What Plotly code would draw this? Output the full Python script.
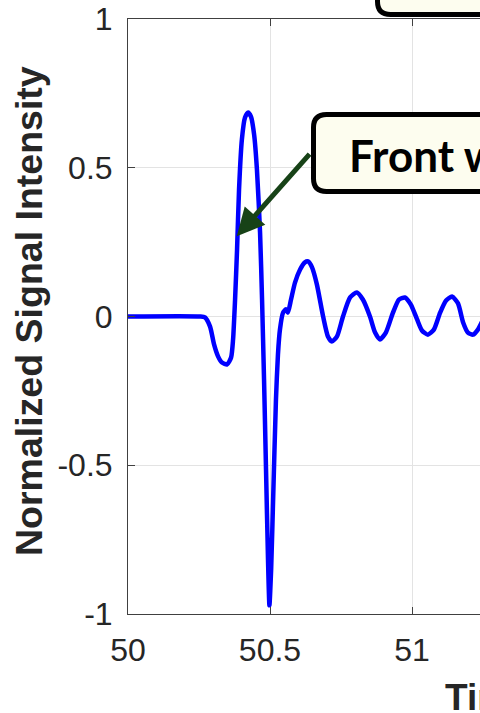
import plotly.graph_objects as go

# ---- data ----
time_s = [50.000, 50.2535, 50.271, 50.289, 50.303, 50.317, 50.331, 50.349, 50.363, 50.370,
          50.377, 50.384, 50.391, 50.401, 50.412, 50.423, 50.433, 50.444, 50.454, 50.465,
          50.472, 50.479, 50.486, 50.493, 50.498, 50.504, 50.511, 50.521, 50.528, 50.535,
          50.546, 50.556, 50.563, 50.574, 50.588, 50.606, 50.623, 50.634, 50.648, 50.665,
          50.687, 50.704, 50.718, 50.736, 50.757, 50.782, 50.806, 50.827, 50.852, 50.870,
          50.887, 50.908, 50.933, 50.954, 50.975, 50.996, 51.018, 51.035, 51.056, 51.077,
          51.099, 51.120, 51.141, 51.162, 51.180, 51.197, 51.215, 51.232, 51.254, 51.275]
intensity = [0.0, 0.0, -0.003, -0.034, -0.094, -0.134, -0.155, -0.161, -0.138, -0.077,
             0.057, 0.225, 0.427, 0.595, 0.669, 0.686, 0.672, 0.612, 0.494, 0.282,
             0.057, -0.212, -0.514, -0.817, -0.971, -0.850, -0.615, -0.279, -0.128, -0.044,
             0.013, 0.024, 0.013, 0.057, 0.114, 0.158, 0.182, 0.185, 0.165, 0.108,
             0.0, -0.067, -0.084, -0.067, 0.0, 0.064, 0.081, 0.057, 0.0, -0.054,
             -0.077, -0.054, 0.013, 0.057, 0.064, 0.040, -0.010, -0.047, -0.061, -0.044,
             0.013, 0.054, 0.067, 0.044, -0.020, -0.054, -0.061, -0.044, -0.003, 0.03]

x_ticks = [50, 50.5, 51, 51.5, 52]
x_tick_labels = ["50", "50.5", "51", "51.5", "52"]
y_ticks = [-1, -0.5, 0, 0.5, 1]
y_tick_labels = ["-1", "-0.5", "0", "0.5", "1"]

annotation_text = "Front wave"
arrow_tip = (50.383, 0.27)
arrow_tail = (50.644, 0.551)
x_title = "Time (ms)"
y_title = "Normalized Signal Intensity"

# ---- layout geometry (pixels) ----
W, H = 480, 713
L, T, B = 128, 19, 99
plot_w = W - L
plot_h = H - T - B
x_min = 50.0
x_max = 50.0 + plot_w / 284.0


def px2paper(px, py):
    return (px - L) / plot_w, (H - B - py) / plot_h


def rounded_rect(x0, y0, x1, y1, r):
    def P(x, y):
        a, b = px2paper(x, y)
        return f"{a:.5f},{b:.5f}"
    path = (f"M {P(x0 + r, y0)} L {P(x1 - r, y0)} Q {P(x1, y0)} {P(x1, y0 + r)} "
            f"L {P(x1, y1 - r)} Q {P(x1, y1)} {P(x1 - r, y1)} "
            f"L {P(x0 + r, y1)} Q {P(x0, y1)} {P(x0, y1 - r)} "
            f"L {P(x0, y0 + r)} Q {P(x0, y0)} {P(x0 + r, y0)} Z")
    return path


fig = go.Figure()
fig.add_trace(go.Scatter(x=time_s, y=intensity, mode="lines",
                         line=dict(color="#0000FF", width=4.5, shape="spline", smoothing=0.6),
                         hoverinfo="skip", showlegend=False))

box_style = dict(type="path", xref="paper", yref="paper",
                 line=dict(color="black", width=5), fillcolor="#FDFDEF", layer="above")
fig.add_shape(path=rounded_rect(313.5, 114.5, 560, 191.5, 13), **box_style)
fig.add_shape(path=rounded_rect(377.5, -60, 560, 14.5, 13), **box_style)

fx, fy = px2paper(347, 155)
fig.add_annotation(text=f"<b>{annotation_text}</b>", xref="paper", yref="paper",
                   x=fx, y=fy, xanchor="left", yanchor="middle", showarrow=False,
                   font=dict(family="Lato", size=44, color="black"))

fig.add_annotation(text="", x=arrow_tip[0], y=arrow_tip[1], xref="x", yref="y",
                   ax=arrow_tail[0], ay=arrow_tail[1], axref="x", ayref="y",
                   showarrow=True, arrowhead=2, arrowsize=1.1, arrowwidth=5,
                   arrowcolor="#174217")

tx, ty = px2paper(443, 697)
fig.add_annotation(text=f"<b>{x_title}</b>", xref="paper", yref="paper",
                   x=tx, y=ty, xanchor="left", yanchor="middle", showarrow=False,
                   font=dict(family="Liberation Sans", size=37, color="#262626"))
yx, yy = px2paper(29, 311)
fig.add_annotation(text=f"<b>{y_title}</b>", xref="paper", yref="paper",
                   x=yx, y=yy, xanchor="center", yanchor="middle", showarrow=False,
                   textangle=-90,
                   font=dict(family="Liberation Sans", size=37.5, color="#262626"))

axis_common = dict(showline=True, linecolor="#404040", linewidth=1,
                   ticks="inside", ticklen=7, tickcolor="#404040",
                   showgrid=True, gridcolor="#E3E3E3", gridwidth=1,
                   zeroline=False,
                   tickfont=dict(family="Liberation Sans", size=32, color="#262626"))

fig.update_xaxes(range=[x_min, x_max], tickvals=x_ticks, ticktext=x_tick_labels,
                 mirror="ticks", ticklabelstandoff=8, **axis_common)
fig.update_yaxes(range=[-1, 1], tickvals=y_ticks, ticktext=y_tick_labels,
                 mirror=False, ticklabelstandoff=8, **axis_common)

fig.update_layout(width=W, height=H, margin=dict(l=L, r=0, t=T, b=B, pad=0),
                  plot_bgcolor="white", paper_bgcolor="white", showlegend=False)

fig.write_html("out.html")
